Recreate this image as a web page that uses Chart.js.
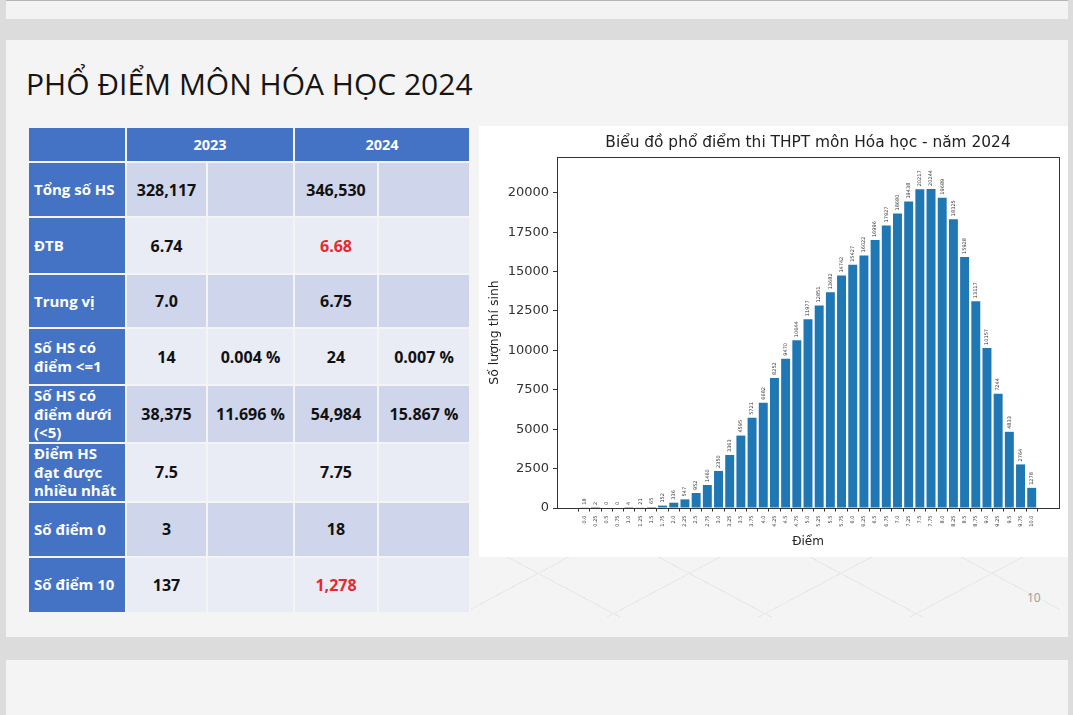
<!DOCTYPE html>
<html>
<head>
<meta charset="utf-8">
<script src="https://cdn.jsdelivr.net/npm/chart.js@4"></script>
<style>
  body { margin: 0; width: 1073px; height: 715px; background: #dcdcdc; position: relative; overflow: hidden; font-family: "Open Sans", sans-serif; }
  .strip { position: absolute; left: 6px; top: 0; width: 1062px; height: 18px; background: #f3f3f3; border-top: 1px solid #b5b5b5; }
  .slide { position: absolute; left: 6px; top: 40px; width: 1062px; height: 597px; background: #f4f4f4; }
  .slide2 { position: absolute; left: 6px; top: 660px; width: 1062px; height: 60px; background: #f4f4f4; }
  .lattice { position: absolute; left: 470px; top: 557px; width: 590px; height: 60px;
    background:
      repeating-linear-gradient(28deg, transparent 0 70px, #e7e7e7 70px 71px),
      repeating-linear-gradient(-28deg, transparent 0 70px, #e7e7e7 70px 71px); }
  h1 { position: absolute; left: 26px; top: 65px; margin: 0; font-weight: 400; font-size: 30px; line-height: 38px; color: #151515; white-space: nowrap; }
  table { position: absolute; left: 27px; top: 126px; border-collapse: separate; border-spacing: 2px; background: #f4f4f4; }
  td, th { padding: 0; font-weight: 700; }
  th { background: #4472c4; color: #fff; font-size: 14.5px; height: 33px; }
  td.lab { background: #4472c4; color: #fff; font-size: 15px; line-height: 18.5px; text-align: left; padding-left: 5px; }
  td.val { font-size: 16px; text-align: center; color: #111; }
  tr.dark td.val { background: #cfd5ea; }
  tr.light td.val { background: #e9ebf5; }
  .red { color: #e8282b !important; }
  #box { position: absolute; left: 479px; top: 126px; width: 589px; height: 431px; background: #fff; }
  .pnum { position: absolute; left: 1027px; top: 589px; font-size: 12px; color: #9a9a9a; }
</style>
</head>
<body>
<div class="strip"></div>
<div class="slide"></div>
<div class="slide2"></div>
<div class="lattice"></div>
<h1>PHỔ ĐIỂM MÔN HÓA HỌC 2024</h1>
<table id="stats"></table>
<div id="box"><canvas id="myChart"></canvas></div>
<div class="pnum">10</div>
<script>
// bảng so sánh
var yearHeaders = ['2023', '2024'];
var rowLabels = ['Tổng số HS', 'ĐTB', 'Trung vị', 'Số HS có<br>điểm &lt;=1', 'Số HS có<br>điểm dưới<br>(&lt;5)', 'Điểm HS<br>đạt được<br>nhiều nhất', 'Số điểm 0', 'Số điểm 10'];
var values2023 = ['328,117', '6.74', '7.0', '14', '38,375', '7.5', '3', '137'];
var pct2023 = ['', '', '', '0.004 %', '11.696 %', '', '', ''];
var values2024 = ['346,530', '6.68', '6.75', '24', '54,984', '7.75', '18', '1,278'];
var pct2024 = ['', '', '', '0.007 %', '15.867 %', '', '', ''];
var redCells2024 = [1, 7];
var rowHeights = [53, 55, 52, 55, 55, 57, 53, 54];
var colWidths = [91, 79, 85, 82, 90];

// phổ điểm 2024
var scoreLabels = ['0.0', '0.25', '0.5', '0.75', '1.0', '1.25', '1.5', '1.75', '2.0', '2.25', '2.5', '2.75', '3.0', '3.25', '3.5', '3.75', '4.0', '4.25', '4.5', '4.75', '5.0', '5.25', '5.5', '5.75', '6.0', '6.25', '6.5', '6.75', '7.0', '7.25', '7.5', '7.75', '8.0', '8.25', '8.5', '8.75', '9.0', '9.25', '9.5', '9.75', '10.0'];
var studentCounts = [18, 2, 0, 0, 4, 21, 65, 152, 336, 547, 952, 1460, 2350, 3363, 4595, 5721, 6682, 8252, 9470, 10644, 11977, 12851, 13682, 14742, 15427, 16022, 16996, 17927, 18680, 19438, 20217, 20244, 19689, 18325, 15928, 13117, 10157, 7244, 4833, 2764, 1278];
var yTicks = [0, 2500, 5000, 7500, 10000, 12500, 15000, 17500, 20000];
var chartTitle = 'Biểu đồ phổ điểm thi THPT môn Hóa học - năm 2024';

// dựng bảng
var html = '<tr><th style="width:' + (colWidths[0] + 5) + 'px"></th>';
yearHeaders.forEach(function (y) { html += '<th colspan="2">' + y + '</th>'; });
html += '</tr>';
rowLabels.forEach(function (lab, i) {
  html += '<tr class="' + (i % 2 === 0 ? 'dark' : 'light') + '" style="height:' + rowHeights[i] + 'px">';
  html += '<td class="lab">' + lab + '</td>';
  html += '<td class="val" style="width:' + colWidths[1] + 'px">' + values2023[i] + '</td>';
  html += '<td class="val" style="width:' + colWidths[2] + 'px">' + pct2023[i] + '</td>';
  html += '<td class="val' + (redCells2024.indexOf(i) >= 0 ? ' red' : '') + '" style="width:' + colWidths[3] + 'px">' + values2024[i] + '</td>';
  html += '<td class="val" style="width:' + colWidths[4] + 'px">' + pct2024[i] + '</td>';
  html += '</tr>';
});
document.getElementById('stats').innerHTML = html;

// khung quanh vùng vẽ (giống matplotlib)
var frame = {
  id: 'frame',
  afterDraw: function (chart) {
    var a = chart.chartArea, c = chart.ctx;
    c.save();
    c.strokeStyle = '#333';
    c.lineWidth = 1;
    c.strokeRect(Math.round(a.left) + 0.5, Math.round(a.top) + 0.5, Math.round(a.right - a.left), Math.round(a.bottom - a.top));
    c.restore();
  }
};

// số trên đầu cột, xoay dọc
var barLabels = {
  id: 'barLabels',
  afterDatasetsDraw: function (chart) {
    var c = chart.ctx;
    var meta = chart.getDatasetMeta(0);
    c.save();
    c.font = '5px "DejaVu Sans"';
    c.fillStyle = '#333';
    c.textAlign = 'left';
    c.textBaseline = 'middle';
    meta.data.forEach(function (bar, i) {
      c.save();
      c.translate(bar.x, bar.y - 3);
      c.rotate(-Math.PI / 2);
      c.fillText(String(studentCounts[i]), 0, 0);
      c.restore();
    });
    c.restore();
  }
};

var ctx = document.getElementById('myChart').getContext('2d');
var myChart = new Chart(ctx, {
  type: 'bar',
  data: {
    datasets: [{
      data: studentCounts.map(function (v, i) { return { x: i, y: v }; }),
      backgroundColor: '#1f77b4',
      categoryPercentage: 1,
      barPercentage: 0.8
    }]
  },
  options: {
    responsive: true,
    maintainAspectRatio: false,
    animation: false,
    layout: { padding: { left: 2, right: 9, top: 0, bottom: 4 } },
    plugins: {
      legend: { display: false },
      tooltip: { enabled: false },
      title: {
        display: true,
        fullSize: false,
        text: chartTitle,
        color: '#222',
        font: { family: 'DejaVu Sans', size: 15.4, weight: 'normal' },
        padding: { top: 8, bottom: 4.5 }
      }
    },
    scales: {
      x: {
        type: 'linear',
        min: -2.44,
        max: 42.44,
        offset: false,
        afterBuildTicks: function (scale) {
          scale.ticks = scoreLabels.map(function (l, i) { return { value: i }; });
        },
        afterFit: function (scale) { scale.height = 45; },
        grid: { drawOnChartArea: false, drawTicks: true, tickLength: 3.5, color: '#333' },
        border: { display: false },
        ticks: {
          autoSkip: false,
          minRotation: 90,
          maxRotation: 90,
          padding: 4,
          color: '#333',
          font: { family: 'DejaVu Sans', size: 5 },
          callback: function (v) { return scoreLabels[v]; }
        },
        title: {
          display: true,
          text: 'Điểm',
          color: '#222',
          font: { family: 'DejaVu Sans', size: 12 },
          padding: { top: 0, bottom: 4 }
        }
      },
      y: {
        min: 0,
        max: 22268,
        afterBuildTicks: function (scale) {
          scale.ticks = yTicks.map(function (v) { return { value: v }; });
        },
        afterFit: function (scale) { scale.width = 76; },
        grid: { drawOnChartArea: false, drawTicks: true, tickLength: 4, color: '#333' },
        border: { display: false },
        ticks: {
          padding: 4,
          color: '#333',
          font: { family: 'DejaVu Sans', size: 13 },
          callback: function (v) { return String(v); }
        },
        title: {
          display: true,
          text: 'Số lượng thí sinh',
          color: '#222',
          font: { family: 'DejaVu Sans', size: 12.5 },
          padding: { top: 6, bottom: 0 }
        }
      }
    }
  },
  plugins: [frame, barLabels]
});
</script>
</body>
</html>
